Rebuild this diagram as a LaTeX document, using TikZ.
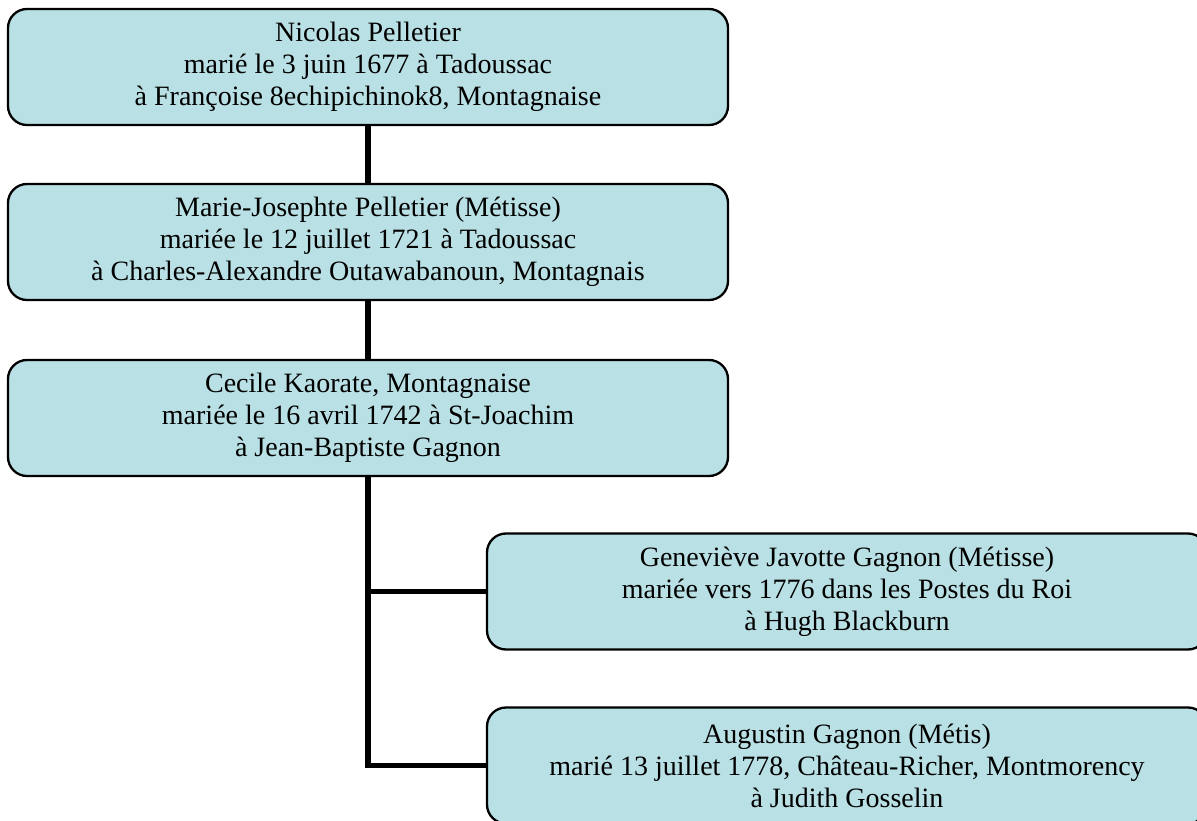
\documentclass[tikz,border=0pt]{standalone}
\usepackage{fontspec}
\setmainfont{Liberation Serif}
\definecolor{boxfill}{RGB}{185,224,228}
\begin{document}
\begin{tikzpicture}[x=1pt,y=-1pt,
  person/.style={draw=black, line width=2.3pt, fill=boxfill, rounded corners=19pt,
    minimum width=720pt, minimum height=116pt, align=center, inner sep=0pt,
    font=\fontsize{28}{32}\selectfont},
  conn/.style={draw=black, line width=5.5pt, line join=miter}]
\useasboundingbox (0,0) rectangle (1197,821);
\clip (0,0) rectangle (1197,821);
\fill[white] (0,0) rectangle (1197,821);
\node[person] (b1) at (368,67) {Nicolas Pelletier\\marié le 3 juin 1677 à Tadoussac\\à Françoise 8echipichinok8, Montagnaise};
\node[person] (b2) at (368,242) {Marie-Josephte Pelletier (Métisse)\\mariée le 12 juillet 1721 à Tadoussac\\à Charles-Alexandre Outawabanoun, Montagnais};
\node[person] (b3) at (368,418) {Cecile Kaorate, Montagnaise\\mariée le 16 avril 1742 à St-Joachim\\à Jean-Baptiste Gagnon};
\node[person] (b4) at (847,591.5) {Geneviève Javotte Gagnon (Métisse)\\mariée vers 1776 dans les Postes du Roi\\à Hugh Blackburn};
\node[person] (b5) at (847,765.5) {Augustin Gagnon (Métis)\\marié 13 juillet 1778, Château-Richer, Montmorency\\à Judith Gosselin};
\draw[conn] (b1.south) -- (b2.north);
\draw[conn] (b2.south) -- (b3.north);
\draw[conn] (b3.south) |- (b5.west);
\draw[conn] (b4.west) -- (b4.west -| b3.south);
\end{tikzpicture}
\end{document}
